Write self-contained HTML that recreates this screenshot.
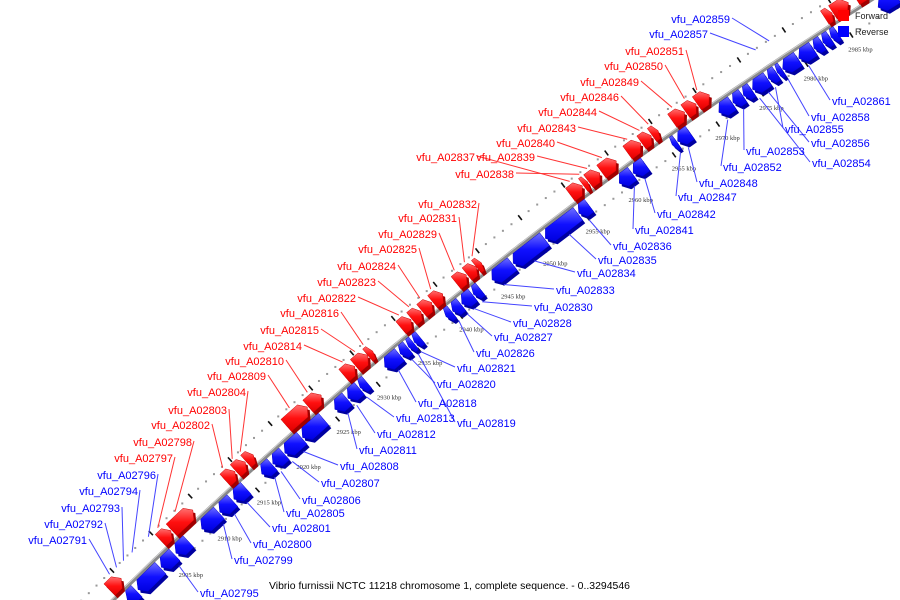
<!DOCTYPE html>
<html><head><meta charset="utf-8"><title>Vibrio furnissii genome diagram</title>
<style>html,body{margin:0;padding:0;background:#fff;width:900px;height:600px;overflow:hidden}svg{display:block;overflow:hidden}</style></head>
<body>
<svg id="chart" width="900" height="600" viewBox="0 0 900 600" xmlns="http://www.w3.org/2000/svg" font-family="Liberation Sans, sans-serif">
<defs>
<linearGradient id="gr" x1="0" y1="0" x2="0" y2="1"><stop offset="0" stop-color="#ff7070"/><stop offset="0.5" stop-color="#ff1010"/><stop offset="1" stop-color="#e00000"/></linearGradient>
<linearGradient id="gb" x1="0" y1="0" x2="0" y2="1"><stop offset="0" stop-color="#7070ff"/><stop offset="0.5" stop-color="#1010ff"/><stop offset="1" stop-color="#0000e0"/></linearGradient>
</defs>
<g id="tracks"></g>
<g id="genes"></g>
<g id="leaders"></g>
<g id="labels"></g>
<g>
<rect x="838" y="10" width="11" height="11" fill="#f00"/>
<text x="855" y="19" font-size="9" fill="#222">Forward</text>
<rect x="838" y="26" width="11" height="11" fill="#00f"/>
<text x="855" y="35" font-size="9" fill="#222">Reverse</text>
</g>
<text x="269" y="589" font-size="10" fill="#000" textLength="361" lengthAdjust="spacingAndGlyphs">Vibrio furnissii NCTC 11218 chromosome 1, complete sequence. - 0..3294546</text>
</svg>
<script>
// Genes (kbp)
const fwdStart = [2898.6,2905.2,2906.6,2913.4,2914.7,2916.0,2921.0,2923.7,2928.1,2929.5,2931.0,2935.0,2936.3,2937.5,2938.8,2941.6,2942.9,2944.0,2955.0,2956.5,2957.1,2958.6,2961.6,2963.2,2964.4,2966.7,2968.2,2969.5,2983.8,2984.7,2987.2];
const fwdEnd   = [2900.1,2906.5,2909.3,2914.6,2915.9,2916.9,2923.6,2925.3,2929.4,2931.0,2931.6,2936.2,2937.4,2938.7,2940.0,2942.8,2944.0,2944.6,2956.4,2957.0,2958.4,2960.3,2963.1,2964.3,2965.1,2968.1,2969.4,2970.9,2984.6,2986.4,2988.5];
const revStart = [2899.1,2900.5,2903.5,2905.4,2908.7,2911.0,2912.8,2916.3,2917.7,2919.2,2921.4,2925.4,2927.0,2928.5,2931.5,2933.4,2934.4,2935.1,2938.9,2939.7,2940.8,2942.2,2944.4,2946.9,2950.7,2954.6,2959.3,2960.9,2965.4,2966.0,2970.7,2972.3,2973.5,2974.5,2976.3,2977.3,2977.9,2979.7,2981.4,2982.4,2983.3,2988.5];
const revEnd   = [2900.3,2903.4,2905.2,2907.0,2910.9,2912.6,2914.3,2917.6,2919.1,2921.3,2924.0,2926.9,2928.4,2929.3,2933.3,2934.3,2935.0,2935.8,2939.6,2940.7,2942.1,2943.0,2946.8,2950.6,2954.5,2955.8,2960.8,2962.3,2965.9,2967.4,2972.2,2973.4,2974.4,2976.2,2977.2,2977.8,2979.6,2981.3,2982.3,2983.2,2984.0,2990.5];
// Tick labels
const tickKbp = [2905,2910,2915,2920,2925,2930,2935,2940,2945,2950,2955,2960,2965,2970,2975,2980,2985];
// Labels: forward (red, right-aligned)
const redNames = ["vfu_A02797","vfu_A02798","vfu_A02802","vfu_A02803","vfu_A02804","vfu_A02809","vfu_A02810","vfu_A02814","vfu_A02815","vfu_A02816","vfu_A02822","vfu_A02823","vfu_A02824","vfu_A02825","vfu_A02829","vfu_A02831","vfu_A02832","vfu_A02837","vfu_A02838","vfu_A02839","vfu_A02840","vfu_A02843","vfu_A02844","vfu_A02846","vfu_A02849","vfu_A02850","vfu_A02851"];
const redAnchor = [2905.8,2908.0,2914.0,2915.2,2916.2,2922.3,2924.5,2928.8,2930.3,2931.3,2935.6,2936.8,2938.1,2939.4,2942.2,2943.4,2944.3,2955.7,2956.8,2957.7,2959.4,2962.3,2963.7,2964.7,2967.4,2968.8,2970.2];
const redX = [173,192,210,227,246,266,284,302,319,339,356,376,396,417,437,457,477,475,514,535,555,576,597,619,639,663,684];
const redY = [458,442,425,410,392,376,361,346,330,313,298,282,266,249,234,218,204,157,174,157,143,128,112,97,82,66,51];
// Labels: reverse placed on outer side (blue, right-aligned)
const blueLNames = ["vfu_A02791","vfu_A02792","vfu_A02793","vfu_A02794","vfu_A02796","vfu_A02857","vfu_A02859"];
const blueLAnchor = [2899.6,2900.5,2901.4,2902.5,2904.6,2976.8,2978.3];
const blueLX = [87,103,120,138,156,708,730];
const blueLY = [540,524,508,491,475,34,19];
// Labels: reverse (blue, left-aligned)
const blueNames = ["vfu_A02795","vfu_A02799","vfu_A02800","vfu_A02801","vfu_A02805","vfu_A02806","vfu_A02807","vfu_A02808","vfu_A02811","vfu_A02812","vfu_A02813","vfu_A02818","vfu_A02819","vfu_A02820","vfu_A02821","vfu_A02826","vfu_A02827","vfu_A02828","vfu_A02830","vfu_A02833","vfu_A02834","vfu_A02835","vfu_A02836","vfu_A02841","vfu_A02842","vfu_A02847","vfu_A02848","vfu_A02852","vfu_A02853","vfu_A02854","vfu_A02855","vfu_A02856","vfu_A02858","vfu_A02861"];
const blueAnchor = [2904.8,2910.5,2911.9,2913.5,2917.0,2917.8,2919.2,2920.6,2926.1,2927.2,2928.4,2932.3,2934.7,2933.9,2935.0,2939.6,2940.6,2941.4,2942.4,2945.0,2948.6,2952.7,2955.0,2960.3,2961.5,2965.6,2966.5,2971.0,2972.8,2974.6,2976.4,2975.6,2977.8,2980.1];
const blueX = [200,234,253,272,286,302,321,340,359,377,396,418,457,437,457,476,494,513,534,556,577,598,613,635,657,678,699,723,746,812,785,811,811,832];
const blueY = [593,560,544,528,513,500,483,466,450,434,418,403,423,384,368,353,337,323,307,290,273,260,246,230,214,197,183,167,151,163,129,143,117,101];

const NS = "http://www.w3.org/2000/svg";
function mk(tag, attrs, parent){const e=document.createElementNS(NS,tag);for(const k in attrs)e.setAttribute(k,attrs[k]);parent.appendChild(e);return e;}
const A=[166,549],B=[491,268],C=[841,19];
function circ(a,b,c){const d=2*(a[0]*(b[1]-c[1])+b[0]*(c[1]-a[1])+c[0]*(a[1]-b[1]));
 const ux=((a[0]**2+a[1]**2)*(b[1]-c[1])+(b[0]**2+b[1]**2)*(c[1]-a[1])+(c[0]**2+c[1]**2)*(a[1]-b[1]))/d;
 const uy=((a[0]**2+a[1]**2)*(c[0]-b[0])+(b[0]**2+b[1]**2)*(a[0]-c[0])+(c[0]**2+c[1]**2)*(b[0]-a[0]))/d;
 return [ux,uy,Math.hypot(a[0]-ux,a[1]-uy)];}
const [cx,cy,R]=circ(A,B,C);
const th0=Math.atan2(A[1]-cy,A[0]-cx), th1=Math.atan2(C[1]-cy,C[0]-cx);
function pt(k,off){const t=th0+(k-2905)/80*(th1-th0);const r=R-off;return [cx+r*Math.cos(t),cy+r*Math.sin(t)];}
const kpx = Math.abs(th1-th0)*R/80;

const tracks=document.getElementById('tracks');
let d="";for(let k=2897;k<=2993;k+=0.5){const p=pt(k,0);d+=(d?"L":"M")+p[0].toFixed(1)+","+p[1].toFixed(1);}
const ml=mk('path',{d:d,fill:'none',stroke:'#8a8a8a','stroke-width':4},tracks);


const ml2=mk('path',{d:d,fill:'none',stroke:'#cfcfcf','stroke-width':1,transform:'translate(-0.9,-0.9)'},tracks);


[-22,19].forEach(off=>{
 for(let k=2895;k<=2995;k++){
  if(k%5===0){const p1=pt(k,off-3),p2=pt(k,off+3);
   const t=mk('line',{x1:p1[0],y1:p1[1],x2:p2[0],y2:p2[1],stroke:'#111','stroke-width':1.6},tracks);
   
   
  } else {const p=pt(k,off);
   const c=mk('rect',{x:p[0]-1,y:p[1]-1,width:2,height:2,fill:'#999'},tracks);
   
   }
 }
});
tickKbp.forEach(k=>{const p=pt(k,36);
 const t=mk('text',{x:p[0],y:p[1]+2,'font-size':6.5,'font-family':'Liberation Serif, serif',fill:'#333','text-anchor':'middle'},tracks);
 t.textContent=k+" kbp";
 
 
});
const gg=document.getElementById('genes');
function gene(s,e,fwd){
 const o1=fwd?-2:2,o2=fwd?-18:18,om=fwd?-10:10;
 const len=(e-s)*kpx;const head=Math.min(len*0.4,6)/kpx;
 let pts;
 if(fwd) pts=[pt(s,o1),pt(s,o2),pt(e-head,o2),pt(e,om),pt(e-head,o1)];
 else pts=[pt(e,o1),pt(e,o2),pt(s+head,o2),pt(s,om),pt(s+head,o1)];
 const ps=pts.map(p=>p[0].toFixed(1)+","+p[1].toFixed(1)).join(" ");
 const sh=mk('polygon',{points:ps,fill:fwd?'#a00000':'#0000a0',transform:'translate(2.5,3)'},gg);
 
 
 const f=mk('polygon',{points:ps,fill:fwd?'url(#gr)':'url(#gb)',stroke:fwd?'#c00':'#00c','stroke-width':0.5},gg);
 
 
}
fwdStart.forEach((s,i)=>gene(s,fwdEnd[i],true));
revStart.forEach((s,i)=>gene(s,revEnd[i],false));
const lg=document.getElementById('leaders'),tg=document.getElementById('labels');
function label(name,x,y,anchor,col,lcol,align,off){
 const p=pt(anchor,off);const sx=align==='end'?x+2:x-2;
 const l=mk('line',{x1:sx,y1:y-1,x2:p[0],y2:p[1],stroke:lcol,'stroke-width':1},lg);
 
 
 const t=mk('text',{x:x,y:y+4,'font-size':11,fill:col,'text-anchor':align},tg);
 t.textContent=name;
 
 
}
redNames.forEach((n,i)=>label(n,redX[i],redY[i],redAnchor[i],'#f00','#f33','end',-21));
blueLNames.forEach((n,i)=>label(n,blueLX[i],blueLY[i],blueLAnchor[i],'#00f','#44f','end',-21));
blueNames.forEach((n,i)=>label(n,blueX[i],blueY[i],blueAnchor[i],'#00f','#44f','start',21));
</script>
</body></html>
